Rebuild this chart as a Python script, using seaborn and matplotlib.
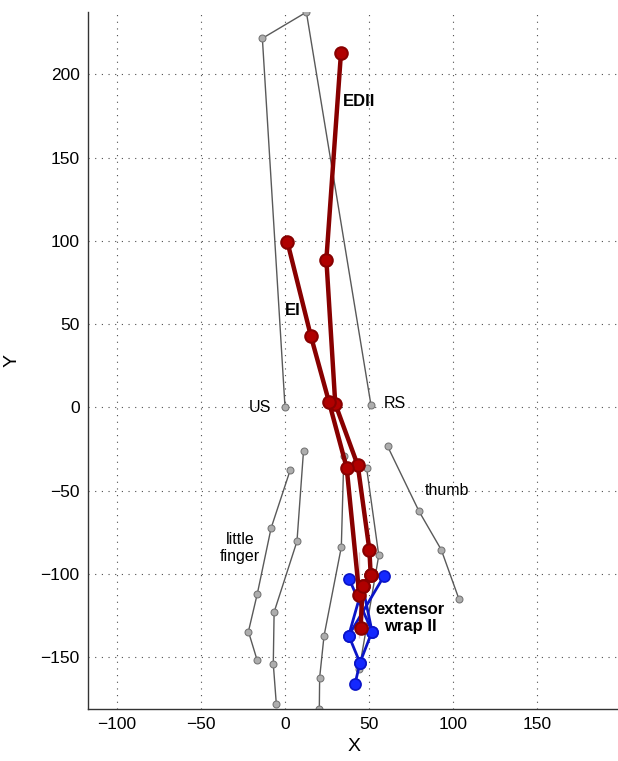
import matplotlib
matplotlib.use("Agg")
import matplotlib.pyplot as plt
import seaborn as sns

# wrist outline (gray polygon)
wrist_x = [0, -13.5, 12.7, 51.2, 0]
wrist_y = [0, 221.6, 237.3, 1.2, 0]

# fingers (gray chains)
thumb_x = [61.1, 79.8, 93.0, 103.6]
thumb_y = [-23.4, -62.4, -85.4, -115.2]
index_x = [48.6, 55.8, 44.2]
index_y = [-36.6, -88.8, -157.0]
middle_x = [35.0, 33.5, 23.2, 20.6, 20.4]
middle_y = [-29.4, -83.8, -137.2, -162.2, -181.2]
ring_x = [11.0, 7.1, -6.5, -7.0, -5.2]
ring_y = [-26.0, -80.4, -122.8, -153.9, -177.9]
little_x = [3.0, -8.3, -16.5, -21.8, -16.7]
little_y = [-37.8, -72.4, -111.8, -134.5, -151.4]

# muscle paths (red)
edii_x = [33.3, 24.6, 29.9, 43.3, 50.2, 51.0, 46.2, 45.0]
edii_y = [212.9, 88.8, 2.2, -34.8, -85.4, -100.5, -107.4, -132.3]
ei_x = [1.4, 15.3, 26.2, 36.7, 44.2, 51.0, 46.2, 44.2]
ei_y = [99.4, 43.2, 3.2, -36.2, -86.8, -100.5, -107.4, -138.3]

# extensor wrap (blue)
wrap_x = [38.3, 51.8, 44.6, 37.9, 58.9]
wrap_y = [-103.2, -134.5, -153.2, -136.9, -101.2]
wrap_mid_x = [37.9, 46.2, 51.8]
wrap_mid_y = [-136.9, -107.4, -134.5]
wrap_tail_x = [44.6, 41.7]
wrap_tail_y = [-153.2, -165.8]

sns.set_style("white")
plt.rcParams['font.family'] = ['Liberation Sans', 'DejaVu Sans']
plt.rcParams['text.color'] = 'black'
plt.rcParams['axes.labelcolor'] = 'black'
plt.rcParams['xtick.color'] = 'black'
plt.rcParams['ytick.color'] = 'black'

fig = plt.figure(figsize=(6.18, 7.61), dpi=100)
ax = fig.add_axes([88 / 618, 1 - 709 / 761, 533 / 618, 697 / 761])

gray = dict(color='0.35', linewidth=1, marker='o', markersize=5,
            markerfacecolor='0.68', markeredgecolor='0.45', sort=False, ax=ax)
sns.lineplot(x=wrist_x, y=wrist_y, **gray)
for fx, fy in [(thumb_x, thumb_y), (index_x, index_y), (middle_x, middle_y),
               (ring_x, ring_y), (little_x, little_y)]:
    sns.lineplot(x=fx, y=fy, **gray)

blue = dict(color='#0a14c8', linewidth=2, marker='o', markersize=8,
            markerfacecolor='#1428ff', markeredgecolor='#0a14c8',
            markeredgewidth=1.2, sort=False, ax=ax)
sns.lineplot(x=wrap_x, y=wrap_y, **blue)
sns.lineplot(x=wrap_mid_x, y=wrap_mid_y, **blue)
sns.lineplot(x=wrap_tail_x, y=wrap_tail_y, **blue)

red = dict(color='#880000', linewidth=3.2, marker='o', markersize=9,
           markerfacecolor='#b00000', markeredgecolor='#880000',
           markeredgewidth=1.5, sort=False, ax=ax)
sns.lineplot(x=edii_x, y=edii_y, **red)
sns.lineplot(x=ei_x, y=ei_y, **red)

ax.text(34.5, 183.4, "EDII", fontsize=12, fontweight='bold', ha='left', va='center')
ax.text(4.8, 58, "EI", fontsize=12, fontweight='bold', ha='center', va='center')
ax.text(-8, 0, "US", fontsize=11.5, ha='right', va='center')
ax.text(59, 2.5, "RS", fontsize=11.5, ha='left', va='center')
ax.text(96.4, -50, "thumb", fontsize=11.5, ha='center', va='center')
ax.text(-26.8, -84.4, "little\nfinger", fontsize=11.5, ha='center', va='center',
        linespacing=1.1)
ax.text(74.4, -126.4, "extensor\nwrap II", fontsize=12, fontweight='bold',
        ha='center', va='center', linespacing=1.1)

ax.set_xlim(-117.3, 200)
ax.set_ylim(-181, 237.4)
ax.set_xticks([-100, -50, 0, 50, 100, 150])
ax.set_yticks([-150, -100, -50, 0, 50, 100, 150, 200])
ax.grid(True, color='0.3', linestyle=(0, (1, 5)), linewidth=0.8)
ax.tick_params(direction='in', length=5, width=1, labelsize=12.5, pad=6)
for s in ['top', 'right']:
    ax.spines[s].set_visible(False)
for s in ['left', 'bottom']:
    ax.spines[s].set_color('0.2')
    ax.spines[s].set_linewidth(1)
ax.set_xlabel("X", fontsize=14, labelpad=4)
ax.set_ylabel("Y", fontsize=14, labelpad=14)

fig.savefig("out.png", dpi=100)
